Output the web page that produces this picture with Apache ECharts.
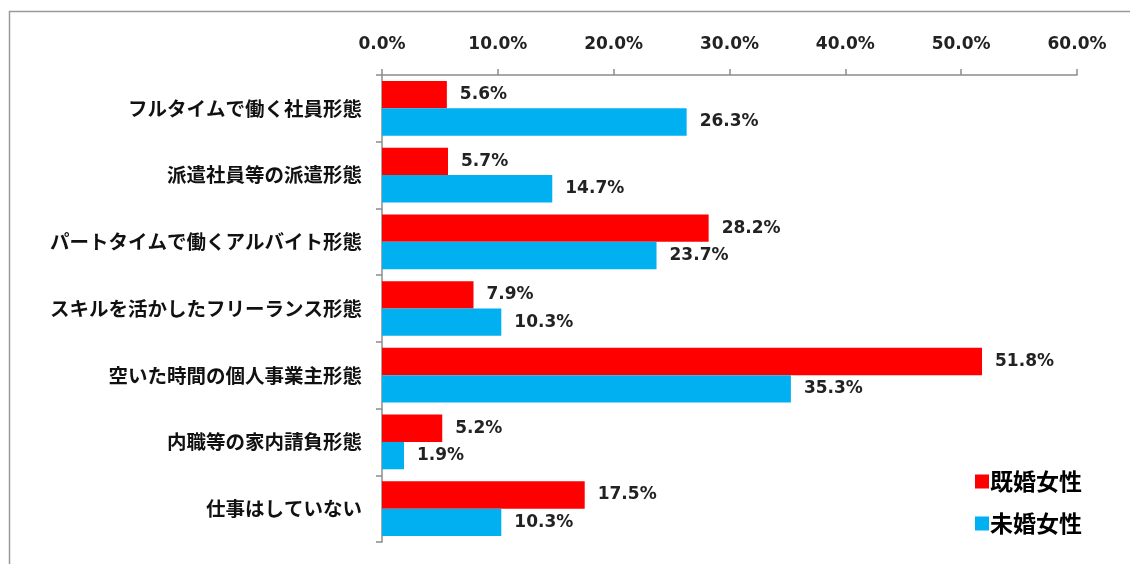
<!DOCTYPE html>
<html>
<head>
<meta charset="utf-8">
<script src="https://cdn.jsdelivr.net/npm/echarts@6/dist/echarts.min.js"></script>
<style>
html,body{margin:0;padding:0;background:#fff;}
#c{width:1130px;height:564px;}
</style>
</head>
<body>
<div id="c"></div>
<script>
const categories = ['フルタイムで働く社員形態','派遣社員等の派遣形態','パートタイムで働くアルバイト形態','スキルを活かしたフリーランス形態','空いた時間の個人事業主形態','内職等の家内請負形態','仕事はしていない'];
const married = [5.6, 5.7, 28.2, 7.9, 51.8, 5.2, 17.5];
const unmarried = [26.3, 14.7, 23.7, 10.3, 35.3, 1.9, 10.3];
const seriesNames = ['既婚女性','未婚女性'];
const tickMin = 0, tickMax = 60, tickStep = 10;

const chart = echarts.init(document.getElementById('c'), null, {renderer:'canvas'});
const numFont = 'DejaVu Sans';
const jpFont = '"Noto Sans CJK JP"';
const labelStyle = {show:true, position:'right', distance:13, formatter: p => p.value.toFixed(1)+'%', fontFamily:numFont, fontWeight:'bold', fontSize:17, color:'#222'};
chart.setOption({
  animation:false,
  backgroundColor:'#fff',
  graphic:[{type:'rect', shape:{x:9.5, y:11.5, width:1200, height:600}, style:{fill:'none', stroke:'#9a9a9a', lineWidth:1.5}, silent:true}],
  grid:{left:382, right:53, top:75, bottom:22, containLabel:false},
  legend:{orient:'vertical', left:970, top:465, itemWidth:14, itemHeight:14, itemGap:19,
    icon:'rect', textStyle:{fontFamily:jpFont, fontWeight:'bold', fontSize:23, color:'#000', padding:[0,0,0,-4]}, data:seriesNames},
  xAxis:{type:'value', position:'top', min:tickMin, max:tickMax, interval:tickStep,
    axisLine:{show:true, lineStyle:{color:'#8c8c8c', width:1.5}},
    axisTick:{show:true, length:6, lineStyle:{color:'#8c8c8c', width:1.5}},
    splitLine:{show:false},
    axisLabel:{formatter: v => v.toFixed(1)+'%', margin:22, fontFamily:numFont, fontWeight:'bold', fontSize:17, color:'#222'}},
  yAxis:{type:'category', inverse:true, data:categories,
    axisLine:{show:true, lineStyle:{color:'#8c8c8c', width:1.5}},
    axisTick:{show:true, length:6, lineStyle:{color:'#8c8c8c', width:1.5}},
    axisLabel:{margin:20, fontFamily:jpFont, fontWeight:'bold', fontSize:19.5, color:'#111'}},
  series:[
    {name:seriesNames[0], type:'bar', data:married, barGap:'0%', barCategoryGap:'18%', itemStyle:{color:'#FF0000'}, label:labelStyle},
    {name:seriesNames[1], type:'bar', data:unmarried, barGap:'0%', barCategoryGap:'18%', itemStyle:{color:'#00B0F0'}, label:labelStyle}
  ]
});
</script>
</body>
</html>
